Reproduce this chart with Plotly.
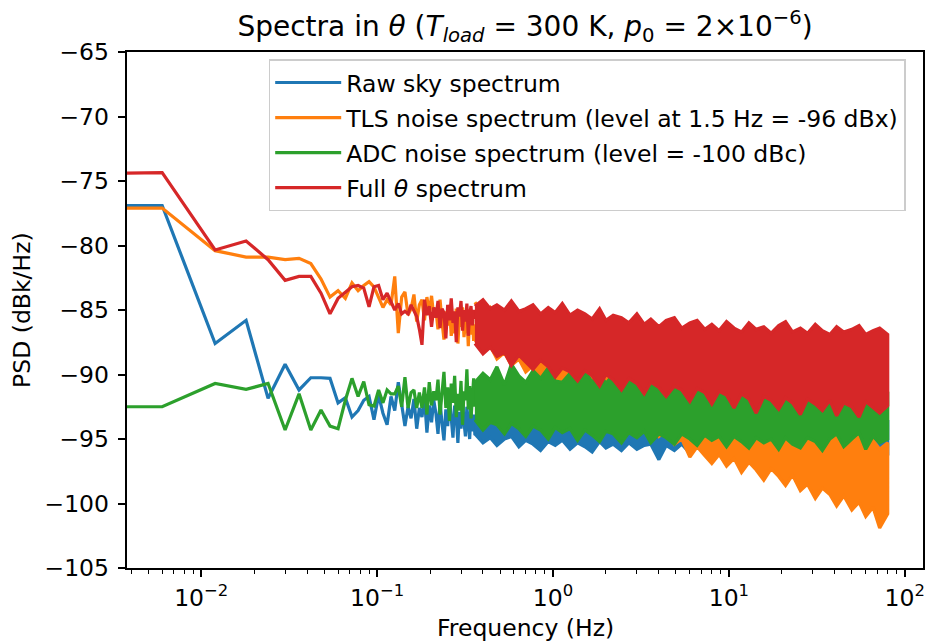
import plotly.graph_objects as go

# ---------------- data ----------------
# individually resolved low-frequency bins (first entry = DC bin, shown at the left edge)
freq_low = [0.003, 0.006, 0.012, 0.018, 0.024, 0.030, 0.036, 0.042, 0.048, 0.054,
            0.060, 0.066, 0.072, 0.078, 0.084, 0.090, 0.096, 0.102, 0.108, 0.114,
            0.120, 0.126, 0.132, 0.138, 0.144, 0.150, 0.156, 0.162, 0.168, 0.174,
            0.180, 0.186, 0.192, 0.198, 0.204, 0.210, 0.216, 0.222, 0.228, 0.234,
            0.240, 0.246, 0.252, 0.258, 0.264, 0.270, 0.276, 0.282, 0.288, 0.294,
            0.300, 0.306, 0.312, 0.318, 0.324, 0.330, 0.336, 0.342, 0.348, 0.354,
            0.360]

raw_low = [-76.9, -76.9, -87.6, -85.8, -91.85, -89.2, -91.2, -90.25, -90.25, -90.3,
           -92.2, -91.8, -93.3, -92.8, -92.0, -91.7, -93.5, -91.6, -93.0, -93.9,
           -91.7, -92.8, -90.6, -92.2, -94.0, -92.5, -93.4, -91.9, -94.2, -92.6,
           -93.3, -91.8, -94.5, -92.4, -93.7, -92.0, -93.0, -94.6, -92.1, -93.8,
           -95.1, -92.7, -94.0, -91.8, -93.5, -94.9, -92.4, -93.2, -95.3, -92.9,
           -94.2, -91.9, -93.7, -94.8, -92.5, -93.9, -95.0, -92.8, -94.4, -93.1,
           -94.7]

tls_low = [-77.1, -77.1, -80.4, -80.9, -80.9, -81.1, -81.0, -81.4, -82.6, -84.0,
           -83.5, -84.1, -82.9, -83.5, -83.1, -82.8, -83.2, -84.0, -84.8, -84.2,
           -84.6, -82.4, -86.8, -84.0, -83.6, -85.4, -84.9, -83.8, -85.9, -84.6,
           -84.2, -85.8, -84.0, -85.2, -83.9, -85.5, -85.0, -86.5, -84.2, -85.9,
           -87.3, -85.1, -86.2, -84.6, -87.0, -85.6, -86.8, -84.9, -87.6, -85.4,
           -86.3, -84.8, -87.1, -86.0, -85.2, -87.8, -85.7, -86.9, -85.3, -87.4,
           -86.1]

adc_low = [-92.5, -92.5, -90.7, -91.15, -90.7, -94.3, -91.5, -94.3, -92.75, -94.0,
           -94.2, -92.0, -90.3, -91.7, -90.55, -92.35, -92.45, -91.2, -92.2, -91.2,
           -91.5, -91.5, -90.9, -92.5, -90.2, -92.6, -91.4, -91.2, -92.6, -91.4,
           -92.6, -91.0, -93.1, -90.6, -92.4, -91.3, -92.0, -90.4, -93.1, -91.2,
           -89.8, -92.6, -91.0, -93.6, -90.7, -92.2, -90.1, -93.3, -91.5, -92.8,
           -90.5, -93.9, -91.3, -92.0, -89.6, -92.7, -90.9, -93.4, -91.6, -90.3,
           -92.5]

full_low = [-74.4, -74.35, -80.35, -79.65, -81.1, -82.7, -82.4, -82.4, -83.7, -85.3,
            -84.1, -83.6, -83.2, -83.1, -83.3, -84.75, -83.2, -83.1, -84.2, -83.7,
            -84.4, -85.0, -84.5, -85.3, -85.1, -85.3, -84.6, -85.1, -85.5, -86.5,
            -87.7, -84.2, -85.4, -84.7, -86.3, -84.8, -85.6, -84.3, -86.4, -84.9,
            -85.2, -87.2, -84.6, -85.8, -84.1, -86.0, -85.1, -87.5, -84.8, -85.5,
            -84.3, -86.6, -85.0, -85.9, -84.5, -87.0, -85.3, -84.7, -86.2, -85.0,
            -85.7]

# dense region (bins too close to resolve): upper / lower extent of each spectrum
freq_band = [0.36, 0.4, 0.44, 0.48, 0.53, 0.58, 0.64, 0.7, 0.77, 0.85,
             0.94, 1.03, 1.13, 1.25, 1.38, 1.52, 1.67, 1.84, 2.0, 2.2,
             2.45, 2.7, 3.0, 3.3, 3.6, 4.0, 4.4, 4.9, 5.4, 6.0,
             6.6, 7.3, 8.0, 8.8, 9.7, 10.7, 11.8, 13, 14.3, 15.8,
             17.4, 19.2, 21, 23, 25.5, 28, 31, 34, 37.5, 41,
             45, 50, 55, 60, 66, 72, 80]

raw_hi = [-92.3, -91.6, -92.4, -91.8, -92.5, -91.9, -92.6, -92.0, -92.7, -92.1,
          -92.8, -92.2, -92.8, -92.2, -92.9, -92.3, -92.9, -92.3, -93.0, -92.4,
          -93.0, -92.4, -93.1, -92.5, -93.1, -92.5, -93.2, -92.6, -93.2, -92.6,
          -93.3, -92.7, -93.3, -92.7, -93.4, -92.8, -93.4, -92.8, -93.5, -92.9,
          -93.5, -92.9, -93.6, -93.0, -93.6, -93.0, -93.7, -93.1, -93.7, -93.1,
          -93.8, -93.2, -93.8, -93.2, -93.9, -93.3, -93.6]
raw_lo = [-94.6, -95.3, -94.9, -95.5, -95.0, -94.8, -95.6, -95.1, -95.4, -95.9,
          -95.2, -95.5, -95.1, -95.8, -95.3, -95.6, -96.0, -95.2, -95.7, -95.4,
          -95.9, -95.3, -95.8, -95.5, -95.4, -96.6, -95.5, -95.9, -95.4, -96.1,
          -95.6, -95.9, -96.2, -95.6, -96.0, -96.3, -95.7, -96.1, -95.8, -96.4,
          -95.7, -96.0, -96.3, -95.8, -96.2, -95.7, -96.4, -95.9, -96.1, -95.8,
          -96.4, -95.9, -96.2, -96.0, -96.5, -95.9, -96.1]

tls_hi = [-84.4, -85.3, -84.8, -85.7, -85.2, -86.0, -85.6, -86.4, -86.0, -86.8,
          -86.4, -87.2, -86.8, -87.6, -87.2, -88.0, -87.6, -88.4, -88.0, -88.8,
          -88.4, -89.2, -88.8, -89.6, -89.2, -90.0, -89.6, -90.4, -90.0, -90.8,
          -90.4, -91.2, -90.8, -91.6, -91.2, -92.0, -91.6, -92.4, -92.0, -92.8,
          -92.4, -93.2, -92.8, -93.6, -93.2, -94.0, -93.6, -94.4, -94.0, -94.8,
          -94.4, -95.2, -94.8, -95.6, -95.1, -95.8, -95.3]
tls_lo = [-87.3, -88.3, -87.8, -88.8, -88.3, -89.3, -88.8, -89.8, -89.3, -90.3,
          -89.8, -90.8, -90.3, -91.3, -90.8, -91.8, -91.4, -92.4, -92.0, -93.0,
          -92.6, -93.6, -93.2, -94.2, -93.8, -94.8, -94.4, -95.4, -95.0, -96.4,
          -95.6, -96.3, -96.9, -96.2, -97.1, -96.5, -97.6, -96.8, -97.4, -98.2,
          -97.3, -97.9, -98.6, -97.8, -99.0, -98.5, -99.6, -98.8, -99.3, -100.2,
          -99.4, -100.5, -99.9, -101.0, -100.3, -101.9, -100.8]

adc_hi = [-90.6, -89.9, -90.4, -89.4, -90.8, -89.2, -90.1, -90.6, -89.7, -90.3,
          -89.5, -90.5, -90.6, -89.9, -90.7, -89.7, -90.6, -89.9, -90.7, -90.0,
          -90.8, -90.0, -90.7, -90.1, -90.9, -90.2, -90.8, -90.1, -90.9, -90.3,
          -91.0, -90.3, -91.0, -90.4, -91.1, -90.5, -91.1, -90.5, -91.2, -90.6,
          -91.2, -90.6, -91.3, -90.7, -91.3, -90.7, -91.4, -90.8, -91.4, -90.8,
          -91.5, -90.9, -91.5, -90.9, -91.6, -91.0, -91.4]
adc_lo = [-93.5, -94.3, -93.7, -93.9, -94.6, -93.8, -94.2, -94.8, -94.0, -94.3,
          -95.0, -94.1, -94.5, -94.2, -95.1, -94.3, -94.7, -95.2, -94.4, -94.6,
          -95.3, -94.5, -94.9, -94.4, -95.3, -94.6, -94.9, -95.4, -94.6, -95.0,
          -95.5, -94.7, -95.1, -94.8, -95.6, -94.8, -95.2, -95.7, -94.9, -95.3,
          -95.0, -95.8, -94.9, -95.4, -95.7, -94.9, -95.2, -95.9, -95.0, -94.6,
          -95.6, -95.0, -94.5, -95.8, -94.8, -95.3, -95.0]

full_hi = [-84.7, -84.2, -84.9, -84.6, -85.0, -84.3, -85.1, -84.9, -84.6, -85.3,
           -84.8, -85.2, -84.5, -85.4, -85.0, -85.3, -85.7, -84.9, -85.8, -85.4,
           -85.6, -86.0, -85.3, -86.1, -85.7, -86.3, -85.8, -85.6, -86.4, -86.0,
           -85.8, -86.5, -86.1, -86.6, -85.9, -86.4, -86.7, -86.0, -86.5, -86.3,
           -86.8, -86.2, -85.9, -86.7, -86.4, -86.8, -86.1, -86.6, -86.9, -86.3,
           -86.7, -86.5, -86.2, -86.9, -86.6, -86.4, -86.9]
full_lo = [-87.6, -88.4, -87.9, -88.6, -88.3, -89.3, -88.5, -89.0, -89.6, -88.9,
           -89.4, -90.2, -89.5, -89.8, -90.5, -89.7, -90.1, -90.9, -90.0, -90.4,
           -91.2, -90.3, -90.7, -91.5, -90.6, -91.0, -91.7, -90.9, -91.2, -92.1,
           -91.1, -91.4, -92.3, -91.3, -91.6, -92.6, -91.5, -91.9, -93.0, -91.7,
           -92.0, -92.7, -91.8, -92.2, -93.1, -91.9, -92.3, -92.8, -92.0, -93.2,
           -92.2, -92.5, -93.3, -92.1, -92.6, -93.0, -92.4]

series_names = ["Raw sky spectrum",
                "TLS noise spectrum (level at 1.5 Hz = -96 dBx)",
                "ADC noise spectrum (level = -100 dBc)",
                "Full <i>θ</i> spectrum"]
series_low = [raw_low, tls_low, adc_low, full_low]
series_hi = [raw_hi, tls_hi, adc_hi, full_hi]
series_lo = [raw_lo, tls_lo, adc_lo, full_lo]
colors = ["#1f77b4", "#ff7f0e", "#2ca02c", "#d62728"]

x_tickvals = [0.01, 0.1, 1, 10, 100]
x_ticktext = ["10<sup>−2</sup>", "10<sup>−1</sup>", "10<sup>0</sup>",
              "10<sup>1</sup>", "10<sup>2</sup>"]
x_minor = [0.004, 0.005, 0.006, 0.007, 0.008, 0.009,
           0.02, 0.03, 0.04, 0.05, 0.06, 0.07, 0.08, 0.09,
           0.2, 0.3, 0.4, 0.5, 0.6, 0.7, 0.8, 0.9,
           2, 3, 4, 5, 6, 7, 8, 9,
           20, 30, 40, 50, 60, 70, 80, 90]

# ---------------- figure ----------------
FONT = "DejaVu Sans"
FS = 23.5
fig = go.Figure()
LW = 3.2
for i in range(4):
    grp = "s%d" % i
    fig.add_trace(go.Scatter(
        x=freq_low, y=series_low[i], mode="lines", name=series_names[i],
        line=dict(color=colors[i], width=LW), legendgroup=grp, showlegend=True))
    fig.add_trace(go.Scatter(
        x=freq_band + freq_band[::-1],
        y=series_hi[i] + series_lo[i][::-1],
        mode="lines", fill="toself", fillcolor=colors[i],
        line=dict(color=colors[i], width=LW), legendgroup=grp,
        showlegend=False, hoverinfo="skip"))

axis_common = dict(showline=True, linecolor="black", linewidth=1.6, mirror=True,
                   ticks="outside", tickcolor="black", tickwidth=1.6, ticklen=7.5,
                   showgrid=False, zeroline=False,
                   tickfont=dict(family=FONT, size=FS, color="black"))

fig.update_xaxes(type="log", range=[-2.4218, 2.1037],
                 tickmode="array", tickvals=x_tickvals, ticktext=x_ticktext,
                 minor=dict(tickmode="array", tickvals=x_minor, ticks="outside",
                            ticklen=4.3, tickwidth=1.2, tickcolor="black",
                            showgrid=False),
                 **axis_common)
fig.update_yaxes(range=[-105, -65], tick0=-105, dtick=5, ticklabelstandoff=4,
                 **axis_common)

fig.update_layout(
    width=930, height=642,
    margin=dict(l=127, r=5, t=52, b=74),
    paper_bgcolor="white", plot_bgcolor="white",
    font=dict(family=FONT, size=FS, color="black"),
    title=dict(text="Spectra in <i>θ</i> (<i>T<sub>load</sub></i> = 300 K, "
                    "<i>p</i><sub>0</sub> = 2×10<sup>−6</sup>)",
               x=0.5, xref="paper", xanchor="center",
               y=1 - 26 / 642, yref="container", yanchor="middle",
               font=dict(family=FONT, size=28, color="black")),
    legend=dict(x=0.178, xanchor="left", y=0.986, yanchor="top",
                bgcolor="rgba(255,255,255,0.85)", bordercolor="#cccccc",
                borderwidth=1.5, tracegroupgap=1.5, itemwidth=66,
                font=dict(family=FONT, size=FS, color="black")),
    annotations=[
        dict(text="Frequency (Hz)", xref="paper", yref="paper",
             x=0.5, y=-0.1156, xanchor="center", yanchor="middle",
             showarrow=False, font=dict(family=FONT, size=FS, color="black")),
        dict(text="PSD (dBk/Hz)", xref="paper", yref="paper",
             x=-0.132, y=0.5, xanchor="center", yanchor="middle", textangle=-90,
             showarrow=False, font=dict(family=FONT, size=FS, color="black")),
    ],
)

fig.write_html("out.html")
